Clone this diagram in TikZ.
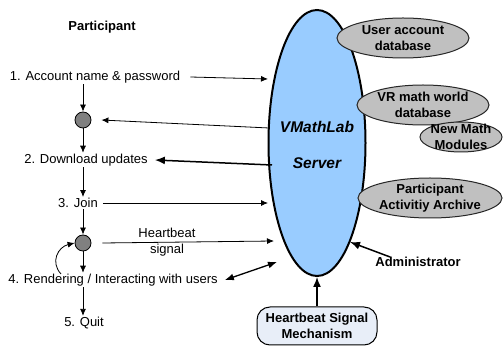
\documentclass[tikz,border=0pt]{standalone}
\usepackage{fontspec}
\setmainfont{Liberation Sans}
\usetikzlibrary{shapes.geometric,arrows.meta}
\definecolor{srvblue}{RGB}{153,204,255}
\definecolor{dbgray}{RGB}{192,192,192}
\definecolor{dotgray}{RGB}{128,128,128}
\definecolor{hbfill}{RGB}{232,238,248}
\begin{document}
\begin{tikzpicture}[x=1pt,y=-1pt,
 lbl/.style={font=\fontsize{13}{16}\selectfont, inner sep=1pt, align=center},
 blbl/.style={font=\bfseries\fontsize{13}{16}\selectfont, align=center, inner sep=0pt},
 db/.style={ellipse, draw=black!85, line width=1pt, fill=dbgray, inner sep=0pt},
 dot/.style={circle, draw=black, line width=0.8pt, fill=dotgray, minimum size=16pt, inner sep=0pt},
 arr/.style={-{Latex[length=7pt,width=6pt]}, line width=0.8pt},
 tarr/.style={-{Latex[length=10pt,width=8pt]}, line width=1.5pt},
 darr/.style={{Latex[length=9pt,width=7pt]}-{Latex[length=9pt,width=7pt]}, line width=1.3pt},
]
\useasboundingbox (0,0) rectangle (504,347);
% server
\node[ellipse, draw, line width=2pt, fill=srvblue, minimum width=97pt, minimum height=266pt, inner sep=0pt,
  label={[font=\bfseries\itshape\fontsize{15.5}{36}\selectfont, align=center, yshift=-2pt]center:VMathLab\\Server}] (server) at (317,143) {};
% databases
\node[db, minimum width=132pt, minimum height=40pt, label={[blbl]center:User account\\database}] (uadb) at (403,38) {};
\node[db, minimum width=132pt, minimum height=40pt, label={[blbl]center:VR math world\\database}] (vrdb) at (423,105) {};
\node[db, minimum width=82pt, minimum height=30pt, label={[blbl]center:New Math\\Modules}] (nmm) at (461,137) {};
\node[db, minimum width=144pt, minimum height=40pt, label={[blbl]center:Participant\\Activitiy Archive}] (paa) at (430,198) {};
% heartbeat mechanism
\node[draw, line width=1pt, fill=hbfill, rounded corners=13pt, minimum width=120pt, minimum height=38pt, blbl] (hb) at (317,326) {Heartbeat Signal\\Mechanism};
\node[blbl] (admin) at (418,262) {Administrator};
% participant side
\node[blbl] (part) at (102,27) {Participant};
\node[lbl] (p1) at (95,77) {1. Account name \& password};
\node[dot] (c1) at (83,120) {};
\node[lbl] (p2) at (86,160) {2. Download updates};
\node[lbl] (p3) at (78,203) {3. Join};
\node[dot] (c2) at (83,243) {};
\node[lbl] (hbs) at (167,242) {Heartbeat\\signal};
\node[lbl] (p4) at (113,280) {4. Rendering / Interacting with users};
\node[lbl] (p5) at (84,323) {5. Quit};
% vertical flow
\draw[arr] (p1.south -| c1) -- (c1.north);
\draw[arr] (c1.south) -- (p2.north -| c1);
\draw[arr] (p2.south -| c1) -- (p3.north -| c1);
\draw[arr] (p3.south -| c1) -- (c2.north);
\draw[arr] (c2.south) -- (p4.north -| c2);
\draw[arr] (p4.south -| c2) -- (p5.north -| c2);
\coordinate (lp) at (61,274);
\draw[arr] (lp) .. controls (50,262) and (58,247) .. (c2.west);
% horizontal connectors
\coordinate (s1) at (268,79);
\coordinate (s2) at (269,128);
\coordinate (s3) at (272,165);
\coordinate (s4) at (268,203);
\coordinate (s5) at (274,241);
\coordinate (s6) at (277,262);
\coordinate (s7) at (350,242);
\draw[arr] ([xshift=9pt]p1.east) -- (s1);
\draw[arr] (s2) -- ([xshift=10pt]c1.east);
\draw[tarr] (s3) -- ([xshift=6pt]p2.east);
\draw[arr] ([xshift=4pt]p3.east) -- (s4);
\draw[arr] ([xshift=11pt]c2.east) -- (s5);
\draw[darr] ([xshift=6pt]p4.east) -- (s6);
\draw[tarr] ([xshift=15pt]admin.north west) -- (s7);
\draw[tarr] (hb.north) -- (server.south);
\end{tikzpicture}
\end{document}
